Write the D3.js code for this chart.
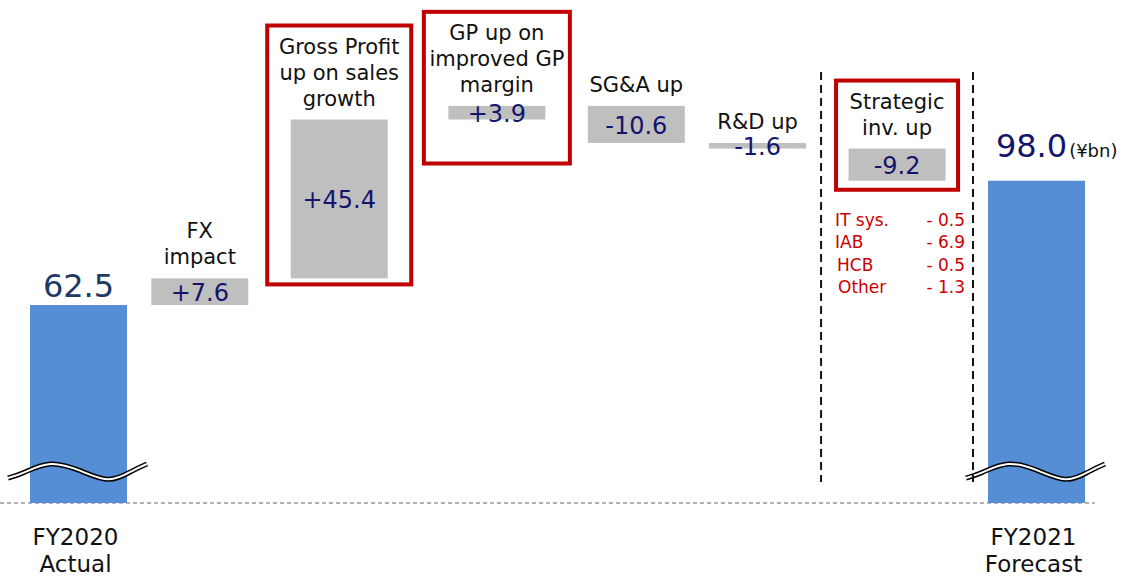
<!DOCTYPE html>
<html>
<head>
<meta charset="utf-8">
<script src="https://cdn.jsdelivr.net/npm/d3@7"></script>
<style>
  body { margin: 0; background: #fff; }
  svg { display: block; font-family: "DejaVu Sans", Verdana, sans-serif; }
</style>
</head>
<body>
<div id="chart"></div>
<script>
// waterfall steps (¥bn)
const stepNames = ['FY2020 Actual', 'FX impact', 'Gross Profit up on sales growth', 'GP up on improved GP margin',
                   'SG&A up', 'R&D up', 'Strategic inv. up', 'FY2021 Forecast'];
const stepLines = [['FY2020', 'Actual'], ['FX', 'impact'], ['Gross Profit', 'up on sales', 'growth'],
                   ['GP up on', 'improved GP', 'margin'], ['SG&A up'], ['R&D up'], ['Strategic', 'inv. up'],
                   ['FY2021', 'Forecast']];
const stepValues = [62.5, 7.6, 45.4, 3.9, -10.6, -1.6, -9.2, 98.0];
const stepIsTotal = [true, false, false, false, false, false, false, true];

// breakdown of strategic investment
const invNames = ['IT sys.', 'IAB', 'HCB', 'Other'];
const invValues = [0.5, 6.9, 0.5, 1.3];
const unitLabel = '(¥bn)';

// red highlight boxes (layout only)
const boxes = {
  'Gross Profit up on sales growth': { half: 72, padBottom: 6 },
  'GP up on improved GP margin': { half: 73, padBottom: 44 },
  'Strategic inv. up': { half: 61, padBottom: 9 }
};

const W = 1136, H = 578;
const barW = 97;
const baseY = 503;
const navy = '#14146e';
const red = '#c00000';

const svg = d3.select('#chart').append('svg')
    .attr('width', W)
    .attr('height', H);

// x: boxed steps take a wider slot
const weights = stepNames.map(n => boxes[n] ? 1.3 : 1);
const slot = [0];
for (let i = 1; i < weights.length; i++) slot.push(slot[i - 1] + (weights[i - 1] + weights[i]) / 2);
const X = d3.scaleLinear().domain([0, slot[slot.length - 1]]).range([78.5, 1036.5]);

// y (axis is broken below the totals)
const Y = d3.scaleLinear().domain([0, 120]).range([523.75, 103.75]);

// running totals
let run = 0;
const steps = stepValues.map(function (v, i) {
  let s;
  if (stepIsTotal[i]) {
    s = { top: v, bottom: null };
    run = v;
  } else {
    s = { top: Math.max(run, run + v), bottom: Math.min(run, run + v) };
    run += v;
  }
  s.name = stepNames[i];
  s.lines = stepLines[i];
  s.value = v;
  s.total = stepIsTotal[i];
  s.cx = X(slot[i]);
  s.yTop = Y(s.top);
  s.yBot = s.total ? baseY : Y(s.bottom);
  return s;
});

const fmtDelta = v => (v > 0 ? '+' : '-') + Math.abs(v).toFixed(1);

// baseline
svg.append('line')
    .attr('x1', 0).attr('x2', 1095)
    .attr('y1', baseY).attr('y2', baseY)
    .attr('stroke', '#666')
    .attr('stroke-width', 1)
    .attr('stroke-dasharray', '4,3');

// bars
svg.selectAll('rect.bar')
  .data(steps)
  .enter().append('rect')
    .attr('class', 'bar')
    .attr('x', d => d.cx - barW / 2)
    .attr('y', d => d.yTop)
    .attr('width', barW)
    .attr('height', d => Math.max(1, d.yBot - d.yTop))
    .attr('fill', d => d.total ? '#558ed5' : '#bfbfbf');

// axis break waves on totals
const waveLine = d3.line().curve(d3.curveBasis);
steps.filter(d => d.total).forEach(function (d) {
  const x0 = d.cx - barW / 2, x1 = d.cx + barW / 2, wy = baseY - 31;
  const pts = [[x0 - 22, wy + 6], [x0 - 8, wy + 2], [x0 + 20, wy - 12], [x0 + 50, wy - 2],
               [x0 + 80, wy + 12], [x1 + 6, wy - 2], [x1 + 20, wy - 8]];
  svg.append('path').attr('d', waveLine(pts))
      .attr('fill', 'none').attr('stroke', '#000').attr('stroke-width', 5);
  svg.append('path').attr('d', waveLine(pts))
      .attr('fill', 'none').attr('stroke', '#fff').attr('stroke-width', 2);
});

// delta value labels
svg.selectAll('text.val')
  .data(steps.filter(d => !d.total))
  .enter().append('text')
    .attr('class', 'val')
    .attr('x', d => d.cx)
    .attr('y', d => (d.yTop + d.yBot) / 2)
    .attr('dy', '0.38em')
    .attr('text-anchor', 'middle')
    .attr('font-size', '24px')
    .attr('fill', navy)
    .text(d => fmtDelta(d.value));

// total value labels
const firstTotal = steps[0], lastTotal = steps[steps.length - 1];
svg.append('text')
    .attr('x', firstTotal.cx)
    .attr('y', firstTotal.yTop - 8)
    .attr('text-anchor', 'middle')
    .attr('font-size', '32px')
    .attr('fill', '#1f3864')
    .text(firstTotal.value.toFixed(1));
const endLabel = svg.append('text')
    .attr('x', lastTotal.cx - 5)
    .attr('y', lastTotal.yTop - 24)
    .attr('text-anchor', 'middle')
    .attr('font-size', '32px')
    .attr('fill', navy)
    .text(lastTotal.value.toFixed(1));
const endW = endLabel.node().getComputedTextLength();
svg.append('text')
    .attr('x', lastTotal.cx - 5 + endW / 2 + 2)
    .attr('y', lastTotal.yTop - 24)
    .attr('font-size', '18px')
    .attr('fill', '#111')
    .text(unitLabel);

// step labels above the deltas
const lineH = 26;
steps.filter(d => !d.total).forEach(function (d) {
  const n = d.lines.length;
  d.firstBase = d.yTop - 14 - (n - 1) * lineH;
  const t = svg.append('text')
      .attr('text-anchor', 'middle')
      .attr('font-size', '21px')
      .attr('fill', '#111');
  d.lines.forEach(function (l, k) {
    t.append('tspan').attr('x', d.cx).attr('y', d.firstBase + k * lineH).text(l);
  });
});

// total labels under the baseline
steps.filter(d => d.total).forEach(function (d) {
  const t = svg.append('text')
      .attr('text-anchor', 'middle')
      .attr('font-size', '23px')
      .attr('fill', '#111');
  d.lines.forEach(function (l, k) {
    t.append('tspan').attr('x', d.cx - 3).attr('y', 545 + k * 27).text(l);
  });
});

// red boxes
steps.filter(d => boxes[d.name]).forEach(function (d) {
  const b = boxes[d.name];
  d.box = { x0: d.cx - b.half, x1: d.cx + b.half, y0: d.firstBase - 28, y1: d.yBot + b.padBottom };
  svg.append('rect')
      .attr('x', d.box.x0).attr('y', d.box.y0)
      .attr('width', d.box.x1 - d.box.x0)
      .attr('height', d.box.y1 - d.box.y0)
      .attr('fill', 'none')
      .attr('stroke', red)
      .attr('stroke-width', 4);
});

// dashed separators around strategic investment
const strat = steps[6], rnd = steps[5];
const sepX = [(rnd.cx + barW / 2 + strat.box.x0) / 2, (strat.box.x1 + lastTotal.cx - barW / 2) / 2];
svg.selectAll('line.sep')
  .data(sepX)
  .enter().append('line')
    .attr('class', 'sep')
    .attr('x1', d => d).attr('x2', d => d)
    .attr('y1', 72).attr('y2', 482)
    .attr('stroke', '#111')
    .attr('stroke-width', 2)
    .attr('stroke-dasharray', '8,5');

// breakdown list
const listTop = strat.box.y1 + 36;
invNames.forEach(function (n, i) {
  svg.append('text')
      .attr('x', strat.box.x0 - 1 + (i > 1 ? 2 : 0) + (i > 2 ? 1 : 0))
      .attr('y', listTop + i * 22.5)
      .attr('font-size', '17px')
      .attr('fill', '#cc0000')
      .text(n);
  svg.append('text')
      .attr('x', strat.box.x1 + 7)
      .attr('y', listTop + i * 22.5)
      .attr('text-anchor', 'end')
      .attr('font-size', '17px')
      .attr('fill', '#cc0000')
      .text('- ' + invValues[i].toFixed(1));
});
</script>
</body>
</html>
